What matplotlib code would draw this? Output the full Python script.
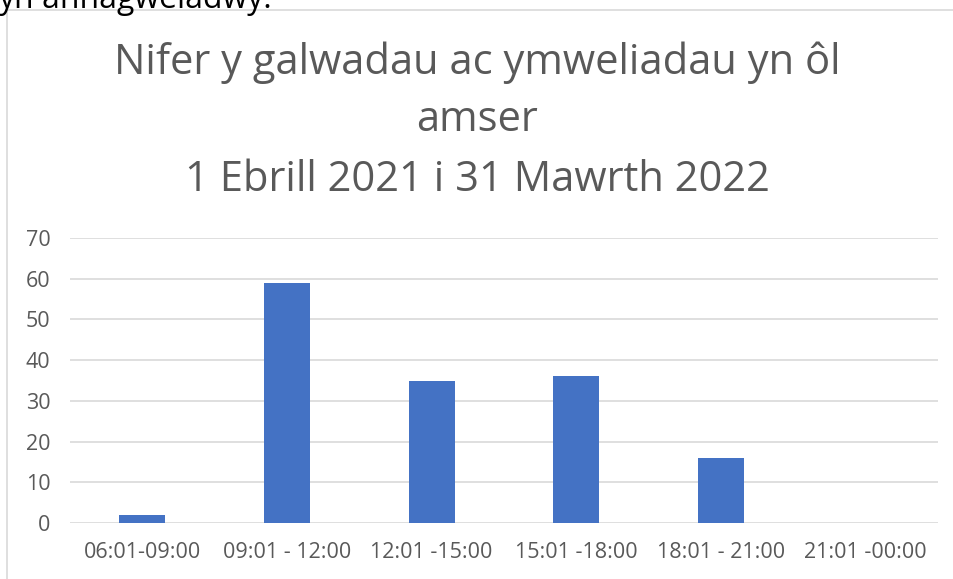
import matplotlib.pyplot as plt
from matplotlib.patches import Rectangle

categories = ['06:01-09:00', '09:01 - 12:00', '12:01 -15:00', '15:01 -18:00', '18:01 - 21:00', '21:01 -00:00']
values = [2, 59, 35, 36, 16, 0]
yticks = [0, 10, 20, 30, 40, 50, 60, 70]

plt.rcParams['font.family'] = ['Open Sans', 'DejaVu Sans']
grey = '#595959'

fig = plt.figure(figsize=(9.54, 5.79), dpi=100)
W, H = 954, 579

# chart border (cut off at the right and bottom)
fig.add_artist(Rectangle((7 / W, -0.1), 1.2, (H - 10) / H + 0.1, transform=fig.transFigure,
                         fill=False, edgecolor='#d9d9d9', linewidth=1.2))
# text from the page above the chart, cut off as in the source
fig.text(-0.002, 1.0 + 1 / H, 'yn anhagweladwy.', fontsize=23, color='black', ha='left', va='center')

ax = fig.add_axes([70 / W, (H - 523) / H, (938 - 70) / W, (523 - 238) / H])
x = range(len(categories))
ax.bar(x, values, width=0.32, color='#4472c4', zorder=3)
ax.set_xlim(-0.5, len(categories) - 0.5)
ax.set_ylim(0, 70)
ax.set_yticks(yticks)
ax.set_xticks(list(x))
ax.set_xticklabels(categories)
ax.grid(axis='y', color='#d9d9d9', linewidth=1.2, zorder=0)
for s in ax.spines.values():
    s.set_visible(False)
ax.tick_params(length=0, labelsize=15.5, labelcolor=grey)
ax.tick_params(axis='x', pad=14)
ax.tick_params(axis='y', pad=14)

fig.text(0.5, (H - 63) / H, 'Nifer y galwadau ac ymweliadau yn ôl', fontsize=30, color=grey, ha='center', va='center')
fig.text(0.5, (H - 120) / H, 'amser', fontsize=30, color=grey, ha='center', va='center')
fig.text(0.5, (H - 180) / H, '1 Ebrill 2021 i 31 Mawrth 2022', fontsize=30, color=grey, ha='center', va='center')

fig.savefig('out.png', dpi=100)
